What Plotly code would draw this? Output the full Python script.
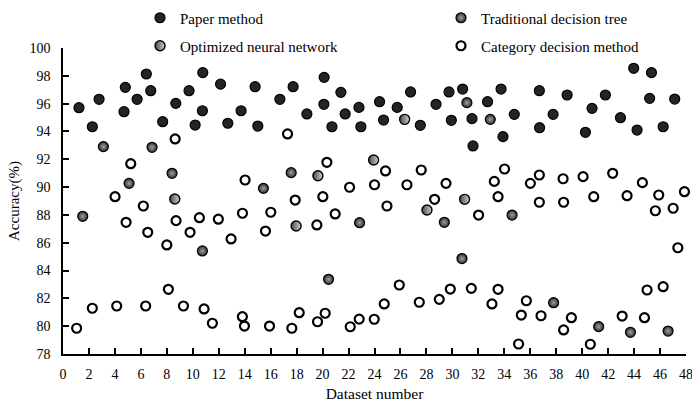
import plotly.graph_objects as go

# ---------------- data ----------------
paper_x = [1.23, 2.26, 2.78, 4.70, 4.80, 5.71, 6.42, 6.76, 7.68, 8.69, 9.71, 10.18, 10.74, 10.77,
           12.14, 12.70, 13.72, 14.80, 15.01, 16.71, 17.73, 18.79, 20.12, 20.10, 20.72, 21.41, 21.74,
           22.80, 22.95, 24.39, 24.70, 25.75, 26.78, 27.53, 28.74, 29.74, 29.92, 30.79, 31.51, 31.59,
           32.71, 33.75, 33.90, 34.77, 36.70, 36.72, 37.76, 38.84, 40.25, 40.76, 41.79, 42.95, 43.97,
           44.23, 45.34, 45.20, 46.24, 47.13]
paper_y = [95.71, 94.34, 96.31, 95.42, 97.17, 96.31, 98.13, 96.93, 94.70, 96.02, 96.93, 94.46, 95.49, 98.23,
           97.40, 94.59, 95.49, 97.22, 94.39, 96.31, 97.22, 95.26, 97.89, 95.95, 94.34, 96.81, 95.26,
           95.73, 94.34, 96.14, 94.82, 95.73, 96.84, 94.44, 95.95, 96.84, 94.80, 97.05, 94.92, 92.96,
           96.14, 97.05, 93.63, 95.23, 96.93, 94.27, 95.23, 96.62, 93.94, 95.66, 96.62, 94.99, 98.54,
           94.10, 98.23, 96.38, 94.34, 96.33]

trad_x = [1.52, 3.11, 6.86, 8.40, 5.09, 10.74, 15.44, 17.58, 22.85, 20.46, 31.12, 32.92, 34.60,
          29.38, 30.74, 37.80, 41.27, 43.72, 46.62]
trad_y = [87.90, 92.91, 92.86, 90.99, 90.27, 85.41, 89.91, 91.04, 87.44, 83.37, 96.07, 94.87, 87.99,
          87.47, 84.86, 81.69, 79.97, 79.56, 79.65]

opt_x = [8.61, 19.64, 17.96, 30.94, 28.04, 23.93, 26.32]
opt_y = [89.14, 90.82, 87.20, 89.12, 88.35, 91.95, 94.87]

cat_x = [8.64, 5.22, 4.01, 6.19, 4.86, 6.53, 8.71, 8.00, 9.79, 10.51, 11.97, 1.05, 2.26, 4.14, 6.37,
         8.12, 9.28, 10.87, 11.51, 17.30, 14.03, 20.33, 22.08, 17.89, 20.02, 13.83, 16.01, 20.97,
         12.95, 15.60, 19.56, 13.82, 13.98, 15.91, 17.63, 18.20, 19.61, 20.20, 22.13, 22.82,
         24.85, 27.60, 34.02, 24.00, 26.50, 29.51, 33.23, 28.63, 33.52, 24.96, 32.02, 25.91, 24.75,
         23.98, 27.45, 28.99, 29.84, 31.46, 33.05, 33.52, 35.31, 35.70, 35.10,
         36.70, 36.01, 38.53, 40.07, 42.35, 44.64, 36.70, 38.57, 40.89, 43.46, 45.90, 47.88, 45.64,
         47.01, 48.21, 47.37, 36.83, 39.17, 38.57, 40.63, 43.08, 44.80, 45.00, 46.24, 48.09]
cat_y = [93.46, 91.68, 89.31, 88.64, 87.47, 86.75, 87.59, 85.84, 86.75, 87.80, 87.69, 79.85, 81.29, 81.45, 81.45,
         82.65, 81.45, 81.24, 80.21, 93.82, 90.51, 91.78, 89.99, 89.07, 89.31, 88.12, 88.19, 88.07,
         86.27, 86.84, 87.28, 80.68, 80.01, 80.01, 79.85, 80.97, 80.32, 80.93, 79.96, 80.51,
         91.16, 91.23, 91.30, 90.17, 90.17, 90.27, 90.41, 89.12, 89.31, 88.64, 87.99, 82.96, 81.60,
         80.50, 81.72, 81.93, 82.67, 82.72, 81.60, 82.65, 80.80, 81.83, 78.72,
         90.87, 90.27, 90.60, 90.75, 90.99, 90.32, 88.91, 88.91, 89.31, 89.38, 89.43, 89.67, 88.30,
         88.48, 88.16, 85.64, 80.75, 80.61, 79.73, 78.70, 80.73, 80.61, 82.60, 82.84, 82.01]

x_ticks = list(range(0, 49, 2))
y_ticks = list(range(78, 101, 2))

FONT = "Liberation Serif"

fig = go.Figure()
fig.add_trace(go.Scatter(
    x=paper_x, y=paper_y, mode="markers", name="Paper method", legend="legend",
    marker=dict(size=10, color="#242424", line=dict(color="#000000", width=1.2)),
    cliponaxis=False))
fig.add_trace(go.Scatter(
    x=trad_x, y=trad_y, mode="markers", name="Traditional decision tree", legend="legend",
    marker=dict(size=10, color="#2e2e2e", gradient=dict(type="radial", color="#a0a0a0"),
                line=dict(color="#000000", width=1.2)),
    cliponaxis=False))
fig.add_trace(go.Scatter(
    x=opt_x, y=opt_y, mode="markers", name="Optimized neural network", legend="legend2",
    marker=dict(size=10, color="#4a4a4a", gradient=dict(type="horizontal", color="#d0d0d0"),
                line=dict(color="#000000", width=1.4)),
    cliponaxis=False))
fig.add_trace(go.Scatter(
    x=cat_x, y=cat_y, mode="markers", name="Category decision method", legend="legend2",
    marker=dict(size=9, color="#ffffff", line=dict(color="#000000", width=2.2)),
    cliponaxis=False))

legend_common = dict(orientation="h", xref="container", yref="container",
                     xanchor="left", yanchor="middle", entrywidth=256, entrywidthmode="pixels",
                     font=dict(family=FONT, size=15, color="#000000"),
                     bgcolor="rgba(0,0,0,0)", itemwidth=30, tracegroupgap=0)

fig.update_layout(
    width=692, height=409,
    margin=dict(l=63, r=6, t=48, b=55, autoexpand=False),
    paper_bgcolor="#ffffff", plot_bgcolor="#ffffff",
    font=dict(family=FONT, size=14, color="#000000"),
    legend=dict(x=140 / 692, y=1 - 18 / 409, **legend_common),
    legend2=dict(x=140 / 692, y=1 - 46 / 409, **legend_common),
    xaxis=dict(range=[0, 48], tickmode="array", tickvals=x_ticks, ticktext=[str(v) for v in x_ticks],
               automargin=False, ticklabeloverflow="allow",
               showgrid=False, zeroline=False, showline=True, linecolor="#000000", linewidth=1.5,
               ticks="inside", ticklen=6, tickwidth=1.5, tickcolor="#000000",
               ticklabelstandoff=6,
               title=dict(text="Dataset number", font=dict(family=FONT, size=15.5), standoff=8),
               tickfont=dict(family=FONT, size=14)),
    yaxis=dict(range=[78, 100], tickmode="array", tickvals=y_ticks, ticktext=[str(v) for v in y_ticks],
               automargin=False, ticklabeloverflow="allow",
               showgrid=False, zeroline=False, showline=True, linecolor="#000000", linewidth=1.5,
               ticks="inside", ticklen=6, tickwidth=1.5, tickcolor="#000000",
               ticklabelstandoff=8,
               title=dict(text="Accuracy(%)", font=dict(family=FONT, size=15), standoff=6),
               tickfont=dict(family=FONT, size=14)),
)

fig.write_html("out.html", config={"displayModeBar": False},
               post_script="document.body.style.margin='0px';")
